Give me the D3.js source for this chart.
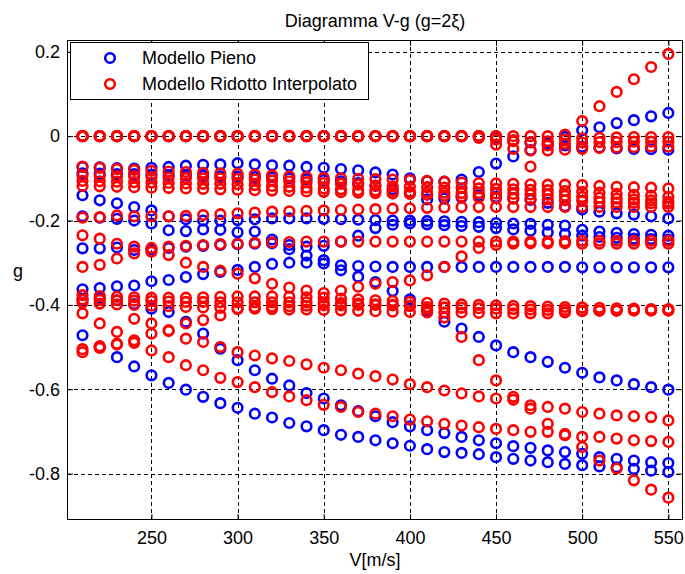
<!DOCTYPE html>
<html>
<head>
<meta charset="utf-8">
<script src="https://cdn.jsdelivr.net/npm/d3@7"></script>
<style>
  body { margin: 0; background: #fff; }
  text { font-family: "Liberation Sans", Arial, Helvetica, sans-serif; fill: #000; }
</style>
</head>
<body>
<svg id="chart" width="685" height="574"></svg>
<script>
// Flight speeds [m/s]
const V = [210,220,230,240,250,260,270,280,290,300,310,320,330,340,350,360,370,380,390,400,
           410,420,430,440,450,460,470,480,490,500,510,520,530,540,550];

const xTicks = [250, 300, 350, 400, 450, 500, 550];
const yTicks = [0.2, 0, -0.2, -0.4, -0.6, -0.8];
const yTickLabels = ["0.2", "0", "-0.2", "-0.4", "-0.6", "-0.8"];

// Damping g of each mode, full model
const pieno1 = [0,0,0,0,0,0,0,0,0,0,0,0,0,0,0,0,0,0,0,0,0,0,0,0,-0.005,-0.01,-0.015,-0.02,-0.022,-0.025,-0.027,-0.029,-0.03,-0.031,-0.032];
const pieno2 = [-0.073,-0.074,-0.076,-0.077,-0.075,-0.073,-0.07,-0.068,-0.067,-0.064,-0.067,-0.069,-0.07,-0.073,-0.075,-0.078,-0.081,-0.086,-0.091,-0.1,-0.107,-0.108,-0.103,-0.085,-0.065,-0.048,-0.033,-0.017,-0.002,0.014,0.021,0.031,0.038,0.047,0.055];
const pieno3 = [-0.14,-0.152,-0.159,-0.168,-0.176,-0.19,-0.197,-0.2,-0.2,-0.199,-0.197,-0.195,-0.195,-0.195,-0.196,-0.197,-0.198,-0.199,-0.2,-0.2,-0.201,-0.202,-0.203,-0.204,-0.206,-0.207,-0.208,-0.21,-0.212,-0.222,-0.226,-0.229,-0.232,-0.234,-0.236];
const pieno4 = [-0.088,-0.089,-0.09,-0.09,-0.091,-0.092,-0.093,-0.094,-0.095,-0.096,-0.097,-0.098,-0.1,-0.102,-0.104,-0.107,-0.111,-0.118,-0.126,-0.136,-0.15,-0.148,-0.145,-0.141,-0.144,-0.147,-0.151,-0.158,-0.166,-0.174,-0.179,-0.183,-0.186,-0.19,-0.195];
const pieno5 = [-0.266,-0.266,-0.264,-0.27,-0.268,-0.265,-0.262,-0.26,-0.258,-0.256,-0.255,-0.254,-0.258,-0.262,-0.26,-0.25,-0.236,-0.218,-0.21,-0.207,-0.209,-0.211,-0.213,-0.215,-0.218,-0.221,-0.224,-0.228,-0.232,-0.236,-0.239,-0.241,-0.243,-0.244,-0.245];
const pieno6 = [-0.363,-0.36,-0.356,-0.354,-0.344,-0.341,-0.334,-0.327,-0.322,-0.317,-0.31,-0.303,-0.3,-0.3,-0.302,-0.306,-0.308,-0.309,-0.31,-0.31,-0.31,-0.31,-0.31,-0.31,-0.31,-0.31,-0.31,-0.31,-0.31,-0.311,-0.311,-0.311,-0.311,-0.311,-0.311];
const pieno7 = [-0.19,-0.193,-0.196,-0.2,-0.207,-0.223,-0.225,-0.221,-0.222,-0.228,-0.226,-0.245,-0.268,-0.283,-0.294,-0.318,-0.333,-0.346,-0.367,-0.387,-0.413,-0.44,-0.456,-0.476,-0.496,-0.512,-0.524,-0.535,-0.549,-0.561,-0.572,-0.579,-0.588,-0.595,-0.601];
const pieno8 = [-0.388,-0.385,-0.389,-0.398,-0.409,-0.417,-0.44,-0.468,-0.504,-0.531,-0.555,-0.575,-0.591,-0.609,-0.622,-0.638,-0.652,-0.664,-0.678,-0.688,-0.697,-0.704,-0.713,-0.721,-0.728,-0.735,-0.739,-0.745,-0.749,-0.753,-0.761,-0.765,-0.769,-0.773,-0.775];
const pieno9 = [-0.472,-0.5,-0.524,-0.546,-0.567,-0.585,-0.601,-0.618,-0.633,-0.644,-0.658,-0.667,-0.68,-0.688,-0.697,-0.708,-0.713,-0.721,-0.728,-0.734,-0.742,-0.749,-0.751,-0.754,-0.761,-0.765,-0.769,-0.773,-0.777,-0.78,-0.783,-0.785,-0.789,-0.793,-0.796];

// Damping g of each mode, reduced interpolated model
const ridotto1 = [0,0,0,0,0,0,0,0,0,0,0,0,0,0,0,0,0,0,0,0,0,0,0,0,0,0,0,0,0.004,0.036,0.071,0.105,0.135,0.164,0.195];
const ridotto2 = [0,0,0,0,0,0,0,0,0,0,0,0,0,0,0,0,0,0,0,0,0,0,0,-0.004,-0.008,-0.012,-0.014,-0.012,-0.008,-0.005,-0.004,-0.003,-0.002,-0.002,-0.002];
const ridotto3 = [0,0,0,0,0,0,0,0,0,0,0,0,0,0,0,0,0,0,0,0,0,0,0,0,0,-0.01,-0.072,-0.022,-0.018,-0.015,-0.014,-0.014,-0.013,-0.013,-0.013];
const ridotto4 = [0,0,0,0,0,0,0,0,0,0,0,0,0,0,0,0,0,0,0,0,0,0,0,0,-0.02,-0.03,-0.034,-0.034,-0.032,-0.03,-0.028,-0.027,-0.026,-0.025,-0.025];
const ridotto5 = [-0.072,-0.075,-0.078,-0.08,-0.082,-0.084,-0.085,-0.087,-0.088,-0.089,-0.091,-0.093,-0.095,-0.097,-0.099,-0.1,-0.101,-0.102,-0.103,-0.104,-0.106,-0.108,-0.11,-0.111,-0.112,-0.113,-0.114,-0.115,-0.115,-0.116,-0.118,-0.12,-0.121,-0.122,-0.124];
const ridotto6 = [-0.093,-0.094,-0.095,-0.096,-0.097,-0.098,-0.099,-0.1,-0.1,-0.101,-0.103,-0.105,-0.107,-0.109,-0.111,-0.113,-0.115,-0.117,-0.119,-0.12,-0.121,-0.122,-0.123,-0.124,-0.125,-0.126,-0.127,-0.128,-0.13,-0.132,-0.134,-0.137,-0.139,-0.141,-0.144];
const ridotto7 = [-0.106,-0.107,-0.108,-0.109,-0.11,-0.111,-0.112,-0.113,-0.113,-0.114,-0.116,-0.118,-0.12,-0.122,-0.124,-0.126,-0.128,-0.129,-0.13,-0.132,-0.133,-0.134,-0.135,-0.135,-0.136,-0.137,-0.138,-0.139,-0.141,-0.144,-0.146,-0.148,-0.15,-0.152,-0.155];
const ridotto8 = [-0.118,-0.119,-0.12,-0.121,-0.122,-0.123,-0.124,-0.125,-0.126,-0.127,-0.128,-0.129,-0.13,-0.131,-0.132,-0.133,-0.134,-0.135,-0.136,-0.137,-0.139,-0.141,-0.143,-0.145,-0.147,-0.148,-0.149,-0.15,-0.152,-0.154,-0.156,-0.157,-0.158,-0.159,-0.16];
const ridotto9 = [-0.193,-0.192,-0.188,-0.19,-0.19,-0.19,-0.189,-0.187,-0.185,-0.183,-0.181,-0.179,-0.178,-0.177,-0.176,-0.175,-0.174,-0.173,-0.172,-0.171,-0.17,-0.169,-0.168,-0.168,-0.168,-0.168,-0.168,-0.168,-0.168,-0.168,-0.168,-0.168,-0.168,-0.168,-0.168];
const ridotto10 = [-0.235,-0.243,-0.255,-0.262,-0.265,-0.262,-0.26,-0.258,-0.256,-0.255,-0.253,-0.252,-0.251,-0.25,-0.25,-0.25,-0.25,-0.25,-0.25,-0.25,-0.25,-0.25,-0.25,-0.25,-0.25,-0.25,-0.25,-0.25,-0.249,-0.248,-0.248,-0.248,-0.248,-0.248,-0.248];
const ridotto11 = [-0.31,-0.305,-0.29,-0.278,-0.274,-0.282,-0.3,-0.31,-0.319,-0.326,-0.337,-0.35,-0.359,-0.366,-0.372,-0.366,-0.357,-0.35,-0.346,-0.342,-0.33,-0.31,-0.285,-0.265,-0.258,-0.255,-0.254,-0.254,-0.254,-0.255,-0.255,-0.255,-0.255,-0.255,-0.255];
const ridotto12 = [-0.377,-0.379,-0.381,-0.382,-0.383,-0.383,-0.383,-0.382,-0.381,-0.38,-0.38,-0.38,-0.381,-0.382,-0.383,-0.385,-0.387,-0.389,-0.391,-0.393,-0.395,-0.397,-0.399,-0.4,-0.401,-0.402,-0.403,-0.404,-0.405,-0.406,-0.407,-0.408,-0.409,-0.41,-0.41];
const ridotto13 = [-0.387,-0.388,-0.389,-0.39,-0.391,-0.392,-0.393,-0.393,-0.394,-0.394,-0.394,-0.394,-0.394,-0.394,-0.395,-0.396,-0.397,-0.399,-0.401,-0.403,-0.405,-0.406,-0.407,-0.408,-0.409,-0.41,-0.411,-0.412,-0.412,-0.413,-0.413,-0.413,-0.413,-0.413,-0.413];
const ridotto14 = [-0.395,-0.397,-0.399,-0.4,-0.402,-0.403,-0.405,-0.406,-0.407,-0.408,-0.409,-0.41,-0.411,-0.411,-0.412,-0.413,-0.414,-0.415,-0.416,-0.417,-0.418,-0.418,-0.418,-0.419,-0.42,-0.42,-0.42,-0.42,-0.418,-0.415,-0.414,-0.414,-0.413,-0.413,-0.413];
const ridotto15 = [-0.42,-0.444,-0.464,-0.433,-0.444,-0.46,-0.444,-0.436,-0.425,-0.41,-0.405,-0.404,-0.403,-0.402,-0.401,-0.401,-0.4,-0.4,-0.4,-0.402,-0.41,-0.43,-0.476,-0.531,-0.579,-0.618,-0.646,-0.682,-0.706,-0.737,-0.769,-0.788,-0.816,-0.838,-0.857];
const ridotto16 = [-0.505,-0.498,-0.492,-0.484,-0.468,-0.462,-0.48,-0.488,-0.5,-0.512,-0.52,-0.527,-0.533,-0.541,-0.549,-0.555,-0.563,-0.569,-0.577,-0.588,-0.595,-0.603,-0.61,-0.617,-0.622,-0.625,-0.638,-0.642,-0.646,-0.654,-0.658,-0.662,-0.664,-0.666,-0.674];
const ridotto17 = [-0.512,-0.502,-0.494,-0.49,-0.508,-0.524,-0.543,-0.555,-0.573,-0.583,-0.595,-0.607,-0.617,-0.626,-0.637,-0.642,-0.654,-0.658,-0.664,-0.672,-0.676,-0.682,-0.686,-0.69,-0.694,-0.697,-0.701,-0.701,-0.709,-0.713,-0.713,-0.717,-0.721,-0.723,-0.725];

const pienoModes = [pieno1, pieno2, pieno3, pieno4, pieno5, pieno6, pieno7, pieno8, pieno9];
const ridottoModes = [ridotto1, ridotto2, ridotto3, ridotto4, ridotto5, ridotto6, ridotto7, ridotto8, ridotto9,
                      ridotto10, ridotto11, ridotto12, ridotto13, ridotto14, ridotto15, ridotto16, ridotto17];

const legendLabels = ["Modello Pieno", "Modello Ridotto Interpolato"];
const BLUE = "#0000ff", RED = "#ff0000";
const FONT = 18, MARK_R = 4.8, MARK_W = 2.6;

const svg = d3.select("#chart");
const plotL = 67, plotR = 683, plotT = 40, plotB = 520;

const x = d3.scaleLinear().domain([201, 558.5]).range([plotL, plotR]);
const y = d3.scaleLinear().domain([-0.91, 0.228]).range([plotB, plotT]);

// plot background
svg.append("rect").attr("x", plotL).attr("y", plotT)
  .attr("width", plotR - plotL).attr("height", plotB - plotT).attr("fill", "#fff");

// dashed grid
const grid = svg.append("g").attr("stroke", "#000").attr("stroke-width", 1)
  .attr("stroke-dasharray", "4,3").attr("shape-rendering", "crispEdges");
grid.selectAll("line.gx").data(xTicks).join("line").attr("class", "gx")
  .attr("x1", d => Math.round(x(d)) + 0.5).attr("x2", d => Math.round(x(d)) + 0.5)
  .attr("y1", plotT).attr("y2", plotB);
grid.selectAll("line.gy").data(yTicks).join("line").attr("class", "gy")
  .attr("y1", d => Math.round(y(d)) + 0.5).attr("y2", d => Math.round(y(d)) + 0.5)
  .attr("x1", plotL).attr("x2", plotR);

// markers
function drawModes(modes, color) {
  const g = svg.append("g").attr("fill", "none").attr("stroke", color).attr("stroke-width", MARK_W);
  modes.forEach(m => {
    g.append("g").selectAll("circle").data(m.map((v, i) => [V[i], v])).join("circle")
      .attr("cx", d => x(d[0])).attr("cy", d => y(d[1])).attr("r", MARK_R);
  });
}
drawModes(pienoModes, BLUE);
drawModes(ridottoModes, RED);

// axes (inward ticks, mirrored on top and right)
const tickLen = 6;
const axB = svg.append("g").attr("transform", `translate(0,${plotB})`)
  .call(d3.axisBottom(x).tickValues(xTicks).tickSizeInner(-tickLen).tickSizeOuter(0).tickPadding(11));
const axT = svg.append("g").attr("transform", `translate(0,${plotT})`)
  .call(d3.axisTop(x).tickValues(xTicks).tickSizeInner(-tickLen).tickSizeOuter(0).tickFormat(""));
const axL = svg.append("g").attr("transform", `translate(${plotL},0)`)
  .call(d3.axisLeft(y).tickValues(yTicks).tickSizeInner(-tickLen).tickSizeOuter(0).tickPadding(7)
    .tickFormat((d, i) => yTickLabels[i]));
const axR = svg.append("g").attr("transform", `translate(${plotR},0)`)
  .call(d3.axisRight(y).tickValues(yTicks).tickSizeInner(-tickLen).tickSizeOuter(0).tickFormat(""));
[axB, axT, axL, axR].forEach(a => {
  a.select(".domain").remove();
  a.selectAll("line").attr("stroke", "#000");
  a.selectAll("text").attr("font-size", FONT).attr("fill", "#000")
    .style("font-family", '"Liberation Sans", Arial, sans-serif');
});

// frame
svg.append("rect").attr("x", plotL + 0.5).attr("y", plotT + 0.5)
  .attr("width", plotR - plotL - 1).attr("height", plotB - plotT - 1)
  .attr("fill", "none").attr("stroke", "#000").attr("stroke-width", 1);

// titles
svg.append("text").attr("x", (plotL + plotR) / 2).attr("y", 27).attr("text-anchor", "middle")
  .attr("font-size", FONT).text("Diagramma V-g (g=2ξ)");
svg.append("text").attr("x", (plotL + plotR) / 2).attr("y", 566).attr("text-anchor", "middle")
  .attr("font-size", FONT).text("V[m/s]");
svg.append("text").attr("x", 18).attr("y", 277).attr("text-anchor", "middle")
  .attr("font-size", FONT).text("g");

// legend
const lg = svg.append("g");
lg.append("rect").attr("x", 70.5).attr("y", 42.5).attr("width", 298).attr("height", 57)
  .attr("fill", "#fff").attr("stroke", "#000").attr("stroke-width", 1);
[BLUE, RED].forEach((c, i) => {
  const cy = 58 + i * 26;
  lg.append("circle").attr("cx", 110).attr("cy", cy).attr("r", MARK_R)
    .attr("fill", "none").attr("stroke", c).attr("stroke-width", MARK_W);
  lg.append("text").attr("x", 142).attr("y", cy + 6).attr("font-size", FONT).text(legendLabels[i]);
});
</script>
</body>
</html>
